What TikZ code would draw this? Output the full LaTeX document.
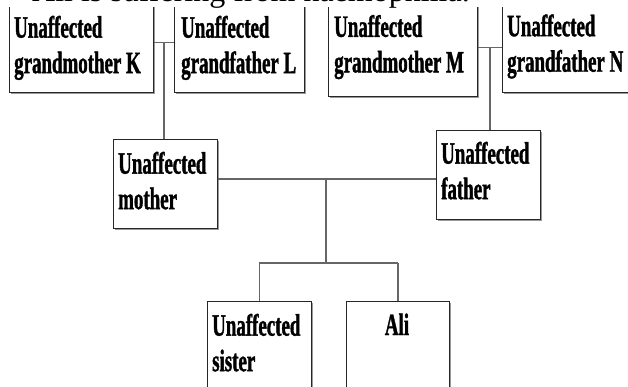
\documentclass[tikz,border=0pt]{standalone}
\usepackage{fontspec}
\setmainfont{Liberation Serif}
\newfontfamily\famfont[FakeStretch=0.61, BoldFeatures={FakeBold=1.2}]{Liberation Serif}
\usetikzlibrary{shadows,calc}

\tikzset{
  person/.style={draw=black!85, line width=0.9pt, fill=white, rectangle, inner sep=0pt, anchor=south west,
    drop shadow={shadow xshift=1.3pt, shadow yshift=-1.6pt, fill=black!40, opacity=1}},
  persontext/.style={anchor=north west, inner sep=0pt, align=left,
    font=\famfont\bfseries\fontsize{31}{35.5}\selectfont},
  famline/.style={draw=black!60, line width=1.2pt},
}

\begin{document}
\begin{tikzpicture}[x=1pt,y=-1pt]
				% Frame of the cut-out
				\useasboundingbox (0,0) rectangle (628,387);
				\clip (0,0) rectangle (628,387);
				
				% Grandparents
				\node[person, minimum width=144pt, minimum height=100pt] (K) at (9,93) {};
				\node[person, minimum width=130pt, minimum height=100pt] (L) at (174,93) {};
				\node[person, minimum width=149pt, minimum height=98pt] (M) at (328,97) {};
				\node[person, minimum width=140pt, minimum height=110pt] (N) at (502,93) {};
				
				% Parents
				\node[person, minimum width=104pt, minimum height=89pt] (mother) at (113,229) {};
				\node[person, minimum width=104pt, minimum height=89pt] (father) at (436,220) {};
				
				% Children
				\node[person, minimum width=104pt, minimum height=100pt] (sister) at (207,402) {};
				\node[person, minimum width=103pt, minimum height=100pt] (ali) at (346,402) {};
				
				% Heading, mostly cut away
				\fill[white] (0,0) rectangle (628,7.5);
				\node[anchor=base west, inner sep=0pt, font=\fontsize{32}{38}\selectfont] (title) at (32,2) {Ali is suffering from haemophilia.};
				
				% Labels
				\node[persontext] (Kt) at (14,15.6) {Unaffected\\grandmother K};
				\node[persontext] (Lt) at (181,15.6) {Unaffected\\grandfather L};
				\node[persontext] (Mt) at (334,14.8) {Unaffected\\grandmother M};
				\node[persontext] (Nt) at (507,14.2) {Unaffected\\grandfather N};
				\node[persontext] (mothert) at (118,151.6) {Unaffected\\mother};
				\node[persontext] (fathert) at (441,141.6) {Unaffected\\father};
				\node[persontext] (sistert) at (212,313.6) {Unaffected\\sister};
				\node[persontext, anchor=base] (alit) at (397,335) {Ali};
				
				% Marriage and descent lines
				\coordinate (KL) at ($(K.east)!0.5!(L.west)$);
				\coordinate (MN) at ($(M.east)!0.5!(M.east -| N.west)$);
				\coordinate (wed) at (326,179);
				\coordinate (kids) at (326,263);
				\draw[famline] (K.east) -- (L.west);
				\draw[famline] (KL) -- (KL |- mother.north);
				\draw[famline] (M.east) -- (M.east -| N.west);
				\draw[famline] (MN) -- (MN |- father.north);
				\draw[famline] (wed -| mother.east) -- (wed -| father.west);
				\draw[famline] (wed) -- (kids);
				\draw[famline] (kids -| sister.north) -- (kids -| ali.north);
				\draw[famline] (kids -| sister.north) -- (sister.north);
				\draw[famline] (kids -| ali.north) -- (ali.north);
\end{tikzpicture}
\end{document}
